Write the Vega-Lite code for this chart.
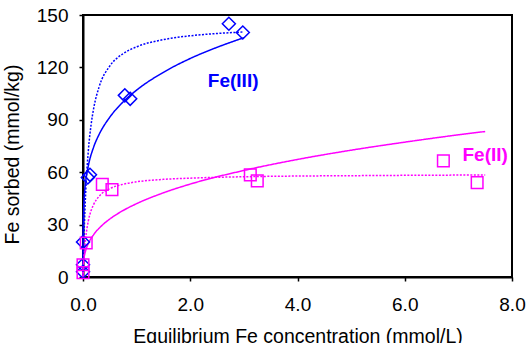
{
  "$schema": "https://vega.github.io/schema/vega-lite/v6.json",
  "width": 429,
  "height": 262,
  "autosize": {"type": "none"},
  "padding": {"left": 83, "top": 15, "right": 18, "bottom": 66},
  "background": "white",
  "config": {
    "font": "Liberation Sans",
    "view": {"stroke": "black", "strokeWidth": 2},
    "axis": {
      "grid": false,
      "labelFont": "Liberation Sans",
      "titleFont": "Liberation Sans",
      "labelFontSize": 19,
      "titleFontSize": 19.5,
      "titleFontWeight": "normal",
      "labelColor": "black",
      "titleColor": "black",
      "domainColor": "black",
      "domainWidth": 2,
      "tickColor": "black",
      "tickSize": 4,
      "tickWidth": 1.5
    }
  },
  "datasets": {
    "fits": [
      {"C": 0, "q": 0, "series": "Fe(III)", "model": "Freundlich"},
      {"C": 0.001, "q": 22.6, "series": "Fe(III)", "model": "Freundlich"},
      {"C": 0.005, "q": 32.5, "series": "Fe(III)", "model": "Freundlich"},
      {"C": 0.01, "q": 38.0, "series": "Fe(III)", "model": "Freundlich"},
      {"C": 0.02, "q": 44.4, "series": "Fe(III)", "model": "Freundlich"},
      {"C": 0.05, "q": 54.5, "series": "Fe(III)", "model": "Freundlich"},
      {"C": 0.1, "q": 63.7, "series": "Fe(III)", "model": "Freundlich"},
      {"C": 0.2, "q": 74.5, "series": "Fe(III)", "model": "Freundlich"},
      {"C": 0.3, "q": 81.6, "series": "Fe(III)", "model": "Freundlich"},
      {"C": 0.5, "q": 91.5, "series": "Fe(III)", "model": "Freundlich"},
      {"C": 0.75, "q": 100.3, "series": "Fe(III)", "model": "Freundlich"},
      {"C": 1.0, "q": 107.0, "series": "Fe(III)", "model": "Freundlich"},
      {"C": 1.5, "q": 117.2, "series": "Fe(III)", "model": "Freundlich"},
      {"C": 2.0, "q": 125.1, "series": "Fe(III)", "model": "Freundlich"},
      {"C": 2.5, "q": 131.5, "series": "Fe(III)", "model": "Freundlich"},
      {"C": 3.0, "q": 137.0, "series": "Fe(III)", "model": "Freundlich"},
      {"C": 0, "q": 0, "series": "Fe(III)", "model": "Langmuir"},
      {"C": 0.005, "q": 6.9, "series": "Fe(III)", "model": "Langmuir"},
      {"C": 0.01, "q": 13.2, "series": "Fe(III)", "model": "Langmuir"},
      {"C": 0.02, "q": 24.2, "series": "Fe(III)", "model": "Langmuir"},
      {"C": 0.05, "q": 48.3, "series": "Fe(III)", "model": "Langmuir"},
      {"C": 0.1, "q": 72.5, "series": "Fe(III)", "model": "Langmuir"},
      {"C": 0.15, "q": 87.0, "series": "Fe(III)", "model": "Langmuir"},
      {"C": 0.2, "q": 96.7, "series": "Fe(III)", "model": "Langmuir"},
      {"C": 0.3, "q": 108.8, "series": "Fe(III)", "model": "Langmuir"},
      {"C": 0.5, "q": 120.8, "series": "Fe(III)", "model": "Langmuir"},
      {"C": 0.75, "q": 127.9, "series": "Fe(III)", "model": "Langmuir"},
      {"C": 1.0, "q": 131.8, "series": "Fe(III)", "model": "Langmuir"},
      {"C": 1.5, "q": 135.9, "series": "Fe(III)", "model": "Langmuir"},
      {"C": 2.0, "q": 138.1, "series": "Fe(III)", "model": "Langmuir"},
      {"C": 2.5, "q": 139.4, "series": "Fe(III)", "model": "Langmuir"},
      {"C": 3.0, "q": 140.3, "series": "Fe(III)", "model": "Langmuir"},
      {"C": 0, "q": 0, "series": "Fe(II)", "model": "Freundlich"},
      {"C": 0.001, "q": 4.0, "series": "Fe(II)", "model": "Freundlich"},
      {"C": 0.005, "q": 6.9, "series": "Fe(II)", "model": "Freundlich"},
      {"C": 0.01, "q": 8.8, "series": "Fe(II)", "model": "Freundlich"},
      {"C": 0.02, "q": 11.1, "series": "Fe(II)", "model": "Freundlich"},
      {"C": 0.05, "q": 15.2, "series": "Fe(II)", "model": "Freundlich"},
      {"C": 0.1, "q": 19.2, "series": "Fe(II)", "model": "Freundlich"},
      {"C": 0.2, "q": 24.3, "series": "Fe(II)", "model": "Freundlich"},
      {"C": 0.35, "q": 29.4, "series": "Fe(II)", "model": "Freundlich"},
      {"C": 0.5, "q": 33.2, "series": "Fe(II)", "model": "Freundlich"},
      {"C": 0.75, "q": 38.1, "series": "Fe(II)", "model": "Freundlich"},
      {"C": 1.0, "q": 42.0, "series": "Fe(II)", "model": "Freundlich"},
      {"C": 1.5, "q": 48.2, "series": "Fe(II)", "model": "Freundlich"},
      {"C": 2.0, "q": 53.2, "series": "Fe(II)", "model": "Freundlich"},
      {"C": 3.0, "q": 61.0, "series": "Fe(II)", "model": "Freundlich"},
      {"C": 4.0, "q": 67.3, "series": "Fe(II)", "model": "Freundlich"},
      {"C": 5.0, "q": 72.6, "series": "Fe(II)", "model": "Freundlich"},
      {"C": 6.0, "q": 77.2, "series": "Fe(II)", "model": "Freundlich"},
      {"C": 7.0, "q": 81.4, "series": "Fe(II)", "model": "Freundlich"},
      {"C": 7.5, "q": 83.3, "series": "Fe(II)", "model": "Freundlich"},
      {"C": 0, "q": 0, "series": "Fe(II)", "model": "Langmuir"},
      {"C": 0.005, "q": 3.3, "series": "Fe(II)", "model": "Langmuir"},
      {"C": 0.01, "q": 6.3, "series": "Fe(II)", "model": "Langmuir"},
      {"C": 0.02, "q": 11.4, "series": "Fe(II)", "model": "Langmuir"},
      {"C": 0.05, "q": 22.1, "series": "Fe(II)", "model": "Langmuir"},
      {"C": 0.1, "q": 32.2, "series": "Fe(II)", "model": "Langmuir"},
      {"C": 0.15, "q": 37.9, "series": "Fe(II)", "model": "Langmuir"},
      {"C": 0.2, "q": 41.6, "series": "Fe(II)", "model": "Langmuir"},
      {"C": 0.3, "q": 46.2, "series": "Fe(II)", "model": "Langmuir"},
      {"C": 0.5, "q": 50.6, "series": "Fe(II)", "model": "Langmuir"},
      {"C": 0.75, "q": 53.1, "series": "Fe(II)", "model": "Langmuir"},
      {"C": 1.0, "q": 54.5, "series": "Fe(II)", "model": "Langmuir"},
      {"C": 1.5, "q": 55.9, "series": "Fe(II)", "model": "Langmuir"},
      {"C": 2.0, "q": 56.6, "series": "Fe(II)", "model": "Langmuir"},
      {"C": 3.0, "q": 57.4, "series": "Fe(II)", "model": "Langmuir"},
      {"C": 4.0, "q": 57.8, "series": "Fe(II)", "model": "Langmuir"},
      {"C": 5.0, "q": 58.0, "series": "Fe(II)", "model": "Langmuir"},
      {"C": 6.0, "q": 58.2, "series": "Fe(II)", "model": "Langmuir"},
      {"C": 7.5, "q": 58.4, "series": "Fe(II)", "model": "Langmuir"}
    ],
    "obs": [
      {"C": 0, "q": 3, "series": "Fe(III)"},
      {"C": 0, "q": 7, "series": "Fe(III)"},
      {"C": 0, "q": 20, "series": "Fe(III)"},
      {"C": 0.09, "q": 57, "series": "Fe(III)"},
      {"C": 0.13, "q": 58.5, "series": "Fe(III)"},
      {"C": 0.78, "q": 104, "series": "Fe(III)"},
      {"C": 0.88, "q": 102, "series": "Fe(III)"},
      {"C": 2.72, "q": 145, "series": "Fe(III)"},
      {"C": 2.98, "q": 140, "series": "Fe(III)"},
      {"C": 0, "q": 2.5, "series": "Fe(II)"},
      {"C": 0, "q": 7, "series": "Fe(II)"},
      {"C": 0.06, "q": 19.5, "series": "Fe(II)"},
      {"C": 0.36, "q": 53, "series": "Fe(II)"},
      {"C": 0.54, "q": 50, "series": "Fe(II)"},
      {"C": 3.12, "q": 58.5, "series": "Fe(II)"},
      {"C": 3.25, "q": 55, "series": "Fe(II)"},
      {"C": 6.72, "q": 66.5, "series": "Fe(II)"},
      {"C": 7.35, "q": 54, "series": "Fe(II)"}
    ],
    "labels": [
      {"C": 2.8, "q": 108.8, "series": "Fe(III)", "text": "Fe(III)"},
      {"C": 7.5, "q": 66.4, "series": "Fe(II)", "text": "Fe(II)"}
    ]
  },
  "encoding": {
    "x": {
      "field": "C", "type": "quantitative",
      "scale": {"domain": [0, 8], "nice": false},
      "axis": {"values": [0, 2, 4, 6, 8], "format": ".1f", "title": "Equilibrium Fe concentration (mmol/L)", "labelPadding": 14, "titlePadding": 13, "labelFlush": false}
    },
    "y": {
      "field": "q", "type": "quantitative",
      "scale": {"domain": [0, 150], "nice": false},
      "axis": {"values": [0, 30, 60, 90, 120, 150], "format": "d", "title": "Fe sorbed (mmol/kg)", "labelPadding": 11, "titlePadding": 14, "titleY": 139, "labelFlush": false}
    },
    "color": {
      "field": "series", "type": "nominal",
      "scale": {"domain": ["Fe(III)", "Fe(II)"], "range": ["#0000ff", "#ff00ff"]},
      "legend": null
    }
  },
  "layer": [
    {
      "data": {"name": "fits"},
      "mark": {"type": "line", "strokeWidth": 1.5, "interpolate": "monotone"},
      "encoding": {
        "strokeDash": {
          "field": "model", "type": "nominal",
          "scale": {"domain": ["Freundlich", "Langmuir"], "range": [[1, 0], [2, 1.5]]},
          "legend": null
        }
      }
    },
    {
      "data": {"name": "obs"},
      "mark": {"type": "point", "filled": false, "strokeWidth": 1.5, "opacity": 1},
      "encoding": {
        "shape": {
          "field": "series", "type": "nominal",
          "scale": {"domain": ["Fe(III)", "Fe(II)"], "range": ["diamond", "square"]},
          "legend": null
        },
        "size": {
          "field": "series", "type": "nominal",
          "scale": {"domain": ["Fe(III)", "Fe(II)"], "range": [170, 135]},
          "legend": null
        }
      }
    },
    {
      "data": {"name": "labels"},
      "mark": {"type": "text", "font": "Liberation Sans", "fontSize": 19, "fontWeight": "bold", "align": "center", "baseline": "alphabetic"},
      "encoding": {
        "text": {"field": "text", "type": "nominal"}
      }
    }
  ]
}
